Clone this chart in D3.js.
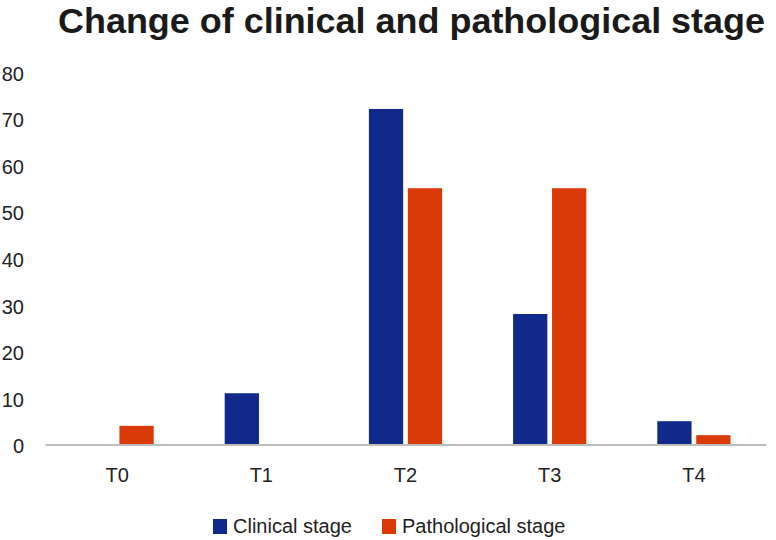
<!DOCTYPE html>
<html>
<head>
<meta charset="utf-8">
<script src="https://cdn.jsdelivr.net/npm/d3@7"></script>
<style>
  html, body { margin: 0; padding: 0; background: #fff; }
  svg { display: block; font-family: "Liberation Sans", Arial, Helvetica, sans-serif; }
</style>
</head>
<body>
<svg id="chart" width="776" height="540"></svg>
<script>
const categories = ["T0", "T1", "T2", "T3", "T4"];
const seriesNames = ["Clinical stage", "Pathological stage"];
const clinical = [0, 11, 72, 28, 5];
const pathological = [4, 0, 55, 55, 2];
const yTicks = [0, 10, 20, 30, 40, 50, 60, 70, 80];
const colors = ["#10298a", "#d93a07"];

const data = categories.map((c, i) => ({ cat: c, values: [clinical[i], pathological[i]] }));

const svg = d3.select("#chart");

const x = d3.scaleBand().domain(categories).range([45, 766]).paddingInner(0).paddingOuter(0);
const y = d3.scaleLinear().domain([0, 80]).range([444.5, 71.7]);
const x1 = d3.scaleBand().domain([0, 1]).range([35.5, x.bandwidth() - 35.5]).paddingInner(0.12);

// Title
svg.append("text")
  .attr("x", 58).attr("y", 33)
  .attr("font-size", 35).attr("font-weight", "bold").attr("fill", "#1a1a1a")
  .attr("textLength", 707).attr("lengthAdjust", "spacingAndGlyphs")
  .text("Change of clinical and pathological stage");

// Y axis labels (no line)
const yAxis = d3.axisLeft(y).tickValues(yTicks).tickSize(0).tickPadding(0);
const gy = svg.append("g").attr("transform", "translate(24,0)").call(yAxis);
gy.select(".domain").remove();
gy.selectAll("text").attr("font-size", 20).attr("fill", "#222").attr("font-family", "Liberation Sans, Arial, sans-serif").attr("dy", "0.42em");

// Bars
const groups = svg.append("g").selectAll("g").data(data).join("g")
  .attr("transform", d => `translate(${x(d.cat)},0)`);
groups.selectAll("rect").data(d => d.values.map((v, i) => ({ v, i }))).join("rect")
  .filter(d => d.v > 0)
  .attr("x", d => x1(d.i))
  .attr("width", x1.bandwidth())
  .attr("y", d => y(d.v))
  .attr("height", d => y(0) - y(d.v))
  .attr("fill", d => colors[d.i]);

// X axis
const xAxis = d3.axisBottom(x).tickSize(0).tickPadding(0);
const gx = svg.append("g").attr("transform", `translate(0,${y(0)})`).call(xAxis);
gx.select(".domain").attr("stroke", "#bdbdbd").attr("stroke-width", 2);
gx.selectAll("text").attr("font-size", 20).attr("fill", "#222").attr("font-family", "Liberation Sans, Arial, sans-serif").attr("dy", "1.87em");

// Legend
const legendItems = [{ x: 213, tx: 233 }, { x: 382, tx: 402 }];
const lg = svg.append("g");
seriesNames.forEach((name, i) => {
  lg.append("rect").attr("x", legendItems[i].x).attr("y", 519).attr("width", 14).attr("height", 15).attr("fill", colors[i]);
  lg.append("text").attr("x", legendItems[i].tx).attr("y", 533).attr("font-size", 20).attr("fill", "#222").text(name);
});
</script>
</body>
</html>
